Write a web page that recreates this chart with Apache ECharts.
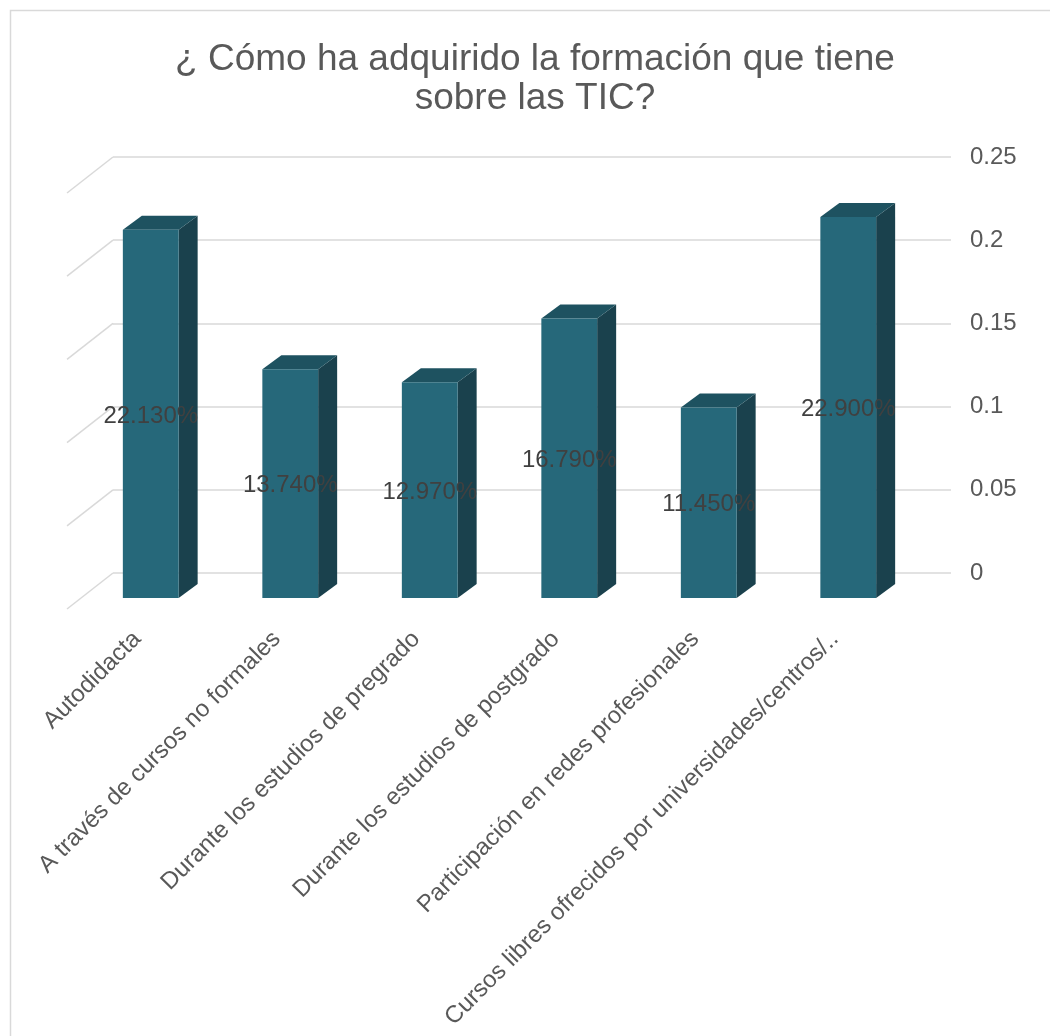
<!DOCTYPE html>
<html>
<head>
<meta charset="utf-8">
<script src="https://cdn.jsdelivr.net/npm/echarts@6/dist/echarts.min.js"></script>
<style>
  html, body { margin: 0; padding: 0; background: #ffffff; }
  #chart { width: 1050px; height: 1036px; }
</style>
</head>
<body>
<div id="chart"></div>
<script>
// Survey answers and their shares
const categories = [
  'Autodidacta',
  'A través de cursos no formales',
  'Durante los estudios de pregrado',
  'Durante los estudios de postgrado',
  'Participación en redes profesionales',
  'Cursos libres ofrecidos por universidades/centros/..'
];
const shares = [0.2213, 0.1374, 0.1297, 0.1679, 0.1145, 0.229];
const yTicks = [0, 0.05, 0.1, 0.15, 0.2, 0.25];

const FONT = "'Liberation Sans', Arial, sans-serif";
const FRONT = '#26687a';
const TOP = '#1e5260';
const SIDE = '#1a414d';
const GRID = '#d9d9d9';
// depth of each column (screen offset of its back face)
const DX = 19, DY = -14;

const chart = echarts.init(document.getElementById('chart'));

chart.setOption({
  backgroundColor: '#ffffff',
  animation: false,
  title: {
    text: '¿ Cómo ha adquirido la formación que tiene\nsobre las TIC?',
    left: 535,
    top: 40,
    padding: 0,
    textAlign: 'center',
    textStyle: { fontFamily: FONT, fontSize: 37, fontWeight: 'normal', color: '#595959', lineHeight: 39 }
  },
  graphic: [{
    type: 'rect',
    shape: { x: 10.5, y: 10.5, width: 1200, height: 1200 },
    style: { fill: 'none', stroke: GRID, lineWidth: 1.5 },
    silent: true
  }],
  grid: [
    // back wall: gridlines and value labels
    { left: 113, width: 838, top: 157, height: 416, outerBoundsMode: 'none', containLabel: false },
    // front plane: columns and category labels
    { left: 81, width: 837, top: 182, height: 416, outerBoundsMode: 'none', containLabel: false }
  ],
  xAxis: [
    { gridIndex: 0, type: 'value', min: 0, max: 1, show: false },
    {
      gridIndex: 1, type: 'category', data: categories,
      axisLine: { show: false }, axisTick: { show: false },
      axisLabel: {
        interval: 0, rotate: 45, margin: 24,
        fontFamily: FONT, fontSize: 24, color: '#595959',
        padding: [0, 19, 0, 0]
      }
    }
  ],
  yAxis: [
    {
      gridIndex: 0, type: 'value', position: 'right',
      min: 0, max: 0.25, interval: 0.05,
      axisLine: { show: false }, axisTick: { show: false },
      axisLabel: { margin: 19, fontFamily: FONT, fontSize: 24, color: '#595959', padding: [4, 0, 0, 0] },
      splitLine: { lineStyle: { color: GRID, width: 1.5 } }
    },
    { gridIndex: 1, type: 'value', min: 0, max: 0.25, interval: 0.05, show: false, splitLine: { show: false } }
  ],
  series: [
    {
      // side-wall gridlines running forward from the back wall
      type: 'custom',
      xAxisIndex: 0, yAxisIndex: 0,
      data: yTicks.map(v => [0, v]),
      silent: true,
      renderItem: function (params, api) {
        const p = api.coord([0, api.value(1)]);
        const x0 = params.coordSys.x;
        return {
          type: 'line',
          shape: { x1: x0, y1: p[1], x2: x0 - 46, y2: p[1] + 36 },
          style: { stroke: GRID, lineWidth: 1.5 }
        };
      }
    },
    {
      // 3D-looking columns with a value label on the front face
      type: 'custom',
      xAxisIndex: 1, yAxisIndex: 1,
      data: shares.map((v, i) => [i, v]),
      renderItem: function (params, api) {
        const i = api.value(0), v = api.value(1);
        const top = api.coord([i, v]);
        const base = api.coord([i, 0]);
        const w = api.size([1, 0])[0] * 0.4;
        const l = top[0] - w / 2, r = top[0] + w / 2;
        const t = top[1], b = base[1];
        return {
          type: 'group',
          children: [
            { type: 'polygon', shape: { points: [[r, t], [r + DX, t + DY], [r + DX, b + DY], [r, b]] }, style: { fill: SIDE } },
            { type: 'polygon', shape: { points: [[l, t], [l + DX, t + DY], [r + DX, t + DY], [r, t]] }, style: { fill: TOP } },
            { type: 'rect', shape: { x: l, y: t, width: w, height: b - t }, style: { fill: FRONT } },
            {
              type: 'text',
              x: top[0], y: (t + b) / 2 + 2,
              style: {
                text: (v * 100).toFixed(3) + '%',
                fill: '#404040', font: '24px ' + FONT,
                align: 'center', verticalAlign: 'middle'
              },
              z2: 10
            }
          ]
        };
      }
    }
  ]
});
</script>
</body>
</html>
